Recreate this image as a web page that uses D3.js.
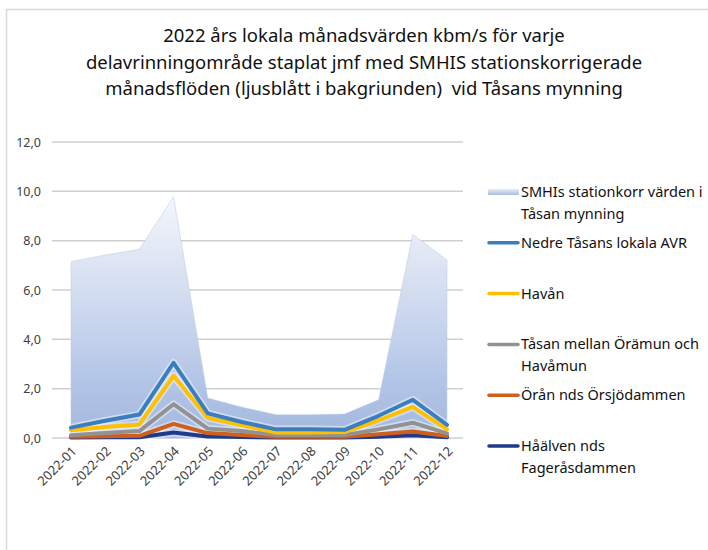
<!DOCTYPE html>
<html lang="sv">
<head>
    <meta charset="UTF-8">
    <title>Tåsan månadsvärden 2022</title>
    <script src="https://d3js.org/d3.v7.min.js"></script>
    <style>
        body { margin: 0; background: #fff; }
        text { font-family: "Noto Sans", "Open Sans", sans-serif; }
    </style>
</head>
<body>
<div id="chart"></div>
<script>
    // months on the x axis
    const months = ['2022-01', '2022-02', '2022-03', '2022-04', '2022-05', '2022-06',
                    '2022-07', '2022-08', '2022-09', '2022-10', '2022-11', '2022-12'];

    // SMHI station corrected values (background area)
    const smhiValues = [7.15, 7.42, 7.65, 9.78, 1.62, 1.25, 0.94, 0.94, 0.97, 1.55, 8.25, 7.22];

    // local sub-catchment values, stacked bottom -> top
    const haalvenValues = [0.02, 0.03, 0.03, 0.22, 0.06, 0.04, 0.02, 0.02, 0.02, 0.05, 0.11, 0.03];
    const oranValues    = [0.03, 0.04, 0.06, 0.35, 0.14, 0.08, 0.03, 0.03, 0.03, 0.10, 0.15, 0.05];
    const tasanMellanValues = [0.06, 0.13, 0.19, 0.80, 0.18, 0.16, 0.07, 0.07, 0.07, 0.20, 0.36, 0.11];
    const havanValues   = [0.20, 0.25, 0.27, 1.15, 0.44, 0.24, 0.10, 0.10, 0.12, 0.37, 0.64, 0.16];
    const nedreValues   = [0.11, 0.25, 0.40, 0.53, 0.18, 0.13, 0.13, 0.13, 0.09, 0.18, 0.29, 0.18];

    const yTicks = [0, 2, 4, 6, 8, 10, 12];

    const titleLines = [
        '2022 års lokala månadsvärden kbm/s för varje',
        'delavrinningområde staplat jmf med SMHIS stationskorrigerade',
        'månadsflöden (ljusblått i bakgriunden)  vid Tåsans mynning'
    ];

    // legend entries, top to bottom
    const legendLabels = [
        ['SMHIs stationkorr värden i', 'Tåsan mynning'],
        ['Nedre Tåsans lokala AVR'],
        ['Havån'],
        ['Tåsan mellan Örämun och', 'Havåmun'],
        ['Örån nds Örsjödammen'],
        ['Håälven nds', 'Fageråsdammen']
    ];

    const seriesKeys = ['haalven', 'oran', 'tasanMellan', 'havan', 'nedre'];
    const seriesColors = {
        haalven: '#1f3a8c',
        oran: '#cf5f1c',
        tasanMellan: '#929292',
        havan: '#ffc000',
        nedre: '#3a7ebf'
    };
    const legendColors = [null, '#3a7ebf', '#ffc000', '#929292', '#cf5f1c', '#1f3a8c'];

    const rows = months.map((m, i) => ({
        month: m,
        smhi: smhiValues[i],
        haalven: haalvenValues[i],
        oran: oranValues[i],
        tasanMellan: tasanMellanValues[i],
        havan: havanValues[i],
        nedre: nedreValues[i]
    }));

    const width = 708, height = 550;

    const svg = d3.select('#chart')
        .append('svg')
        .attr('width', width)
        .attr('height', height);

    // chart border
    svg.append('rect')
        .attr('x', 6.5).attr('y', 9.5)
        .attr('width', 760).attr('height', 600)
        .attr('fill', 'none')
        .attr('stroke', '#d9d9d9')
        .attr('stroke-width', 1.5);

    // title
    svg.append('g').selectAll('text')
        .data(titleLines)
        .join('text')
        .attr('x', 364)
        .attr('y', (d, i) => 42 + i * 26.5)
        .attr('text-anchor', 'middle')
        .attr('font-size', 18.5)
        .attr('fill', '#111')
        .style('white-space', 'pre')
        .text(d => d);

    const xScale = d3.scalePoint()
        .domain(months)
        .range([71, 447]);

    const yScale = d3.scaleLinear()
        .domain([0, 12])
        .range([438, 142]);

    // gradient for the SMHI area
    const defs = svg.append('defs');
    const grad = defs.append('linearGradient')
        .attr('id', 'smhiGrad')
        .attr('x1', 0).attr('y1', 0).attr('x2', 0).attr('y2', 1);
    grad.append('stop').attr('offset', '0%').attr('stop-color', '#f4f6fb');
    grad.append('stop').attr('offset', '40%').attr('stop-color', '#d3ddf0');
    grad.append('stop').attr('offset', '75%').attr('stop-color', '#b4c6e7');
    grad.append('stop').attr('offset', '100%').attr('stop-color', '#a3b8df');

    const legGrad = defs.append('linearGradient')
        .attr('id', 'legGrad')
        .attr('x1', 0).attr('y1', 0).attr('x2', 0).attr('y2', 1);
    legGrad.append('stop').attr('offset', '0%').attr('stop-color', '#e6ecf7');
    legGrad.append('stop').attr('offset', '100%').attr('stop-color', '#a9bde1');

    // gridlines
    svg.append('g')
        .selectAll('line')
        .data(yTicks)
        .join('line')
        .attr('x1', 52).attr('x2', 463)
        .attr('y1', d => yScale(d)).attr('y2', d => yScale(d))
        .attr('stroke', '#cfcfcf')
        .attr('stroke-width', 1.5);

    // y axis labels
    const yAxis = svg.append('g')
        .attr('transform', 'translate(52,0)')
        .call(d3.axisLeft(yScale).tickValues(yTicks).tickSize(0).tickPadding(11)
            .tickFormat(d => d3.format('.1f')(d).replace('.', ',')));
    yAxis.select('.domain').remove();
    yAxis.selectAll('text')
        .attr('font-size', 12.5)
        .attr('fill', '#404040')
        .style('font-family', '"Noto Sans", sans-serif');

    // x axis labels
    const xAxis = svg.append('g')
        .attr('transform', `translate(0, ${yScale(0)})`)
        .call(d3.axisBottom(xScale).tickSize(0).tickPadding(0));
    xAxis.select('.domain').remove();
    xAxis.selectAll('text')
        .attr('font-size', 13)
        .attr('fill', '#404040')
        .style('font-family', '"Noto Sans", sans-serif')
        .style('text-anchor', 'end')
        .attr('x', 0)
        .attr('y', 0)
        .attr('dy', 0)
        .attr('transform', 'translate(6, 14) rotate(-45)');

    // SMHI background area
    const area = d3.area()
        .x(d => xScale(d.month))
        .y0(yScale(0))
        .y1(d => yScale(d.smhi));

    svg.append('path')
        .datum(rows)
        .attr('d', area)
        .attr('fill', 'url(#smhiGrad)')
        .attr('stroke', '#b9c8e6')
        .attr('stroke-width', 0.5);

    // stacked local lines
    const stacked = d3.stack().keys(seriesKeys)(rows);

    const line = d3.line()
        .x(d => xScale(d.data.month))
        .y(d => yScale(d[1]));

    const lineGroup = svg.append('g');

    // light glow below the lines
    lineGroup.selectAll('.glow')
        .data(stacked)
        .join('path')
        .attr('class', 'glow')
        .attr('d', line)
        .attr('fill', 'none')
        .attr('stroke', '#ffffff')
        .attr('stroke-opacity', 0.45)
        .attr('stroke-width', 7.5)
        .attr('stroke-linejoin', 'round');

    lineGroup.selectAll('.series')
        .data(stacked)
        .join('path')
        .attr('class', 'series')
        .attr('d', line)
        .attr('fill', 'none')
        .attr('stroke', d => seriesColors[d.key])
        .attr('stroke-width', 4)
        .attr('stroke-linejoin', 'round')
        .attr('stroke-linecap', 'round');

    // legend
    const legend = svg.append('g')
        .attr('transform', 'translate(488, 192)');

    const items = legend.selectAll('.legend-item')
        .data(legendLabels)
        .join('g')
        .attr('class', 'legend-item')
        .attr('transform', (d, i) => `translate(0, ${i * 50.8})`);

    items.each(function(d, i) {
        const g = d3.select(this);
        if (i === 0) {
            g.append('rect')
                .attr('x', 0).attr('y', -3)
                .attr('width', 31).attr('height', 6)
                .attr('fill', 'url(#legGrad)');
        } else {
            g.append('line')
                .attr('x1', 1).attr('x2', 30)
                .attr('y1', 0).attr('y2', 0)
                .attr('stroke', legendColors[i])
                .attr('stroke-width', 3.5)
                .attr('stroke-linecap', 'round');
        }
        g.append('text')
            .attr('x', 33)
            .attr('y', 5)
            .attr('font-size', 14.5)
            .attr('fill', '#111')
            .selectAll('tspan')
            .data(d)
            .join('tspan')
            .attr('x', 33)
            .attr('dy', (t, j) => j === 0 ? 0 : 21.5)
            .text(t => t);
    });
</script>
</body>
</html>
